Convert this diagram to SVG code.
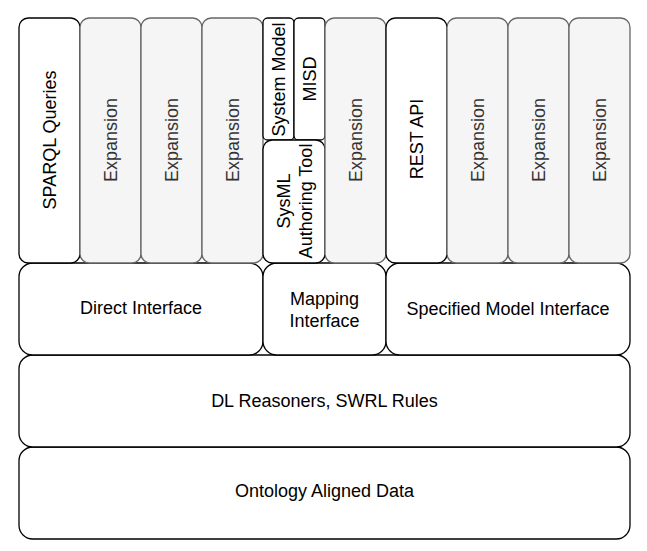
<svg xmlns="http://www.w3.org/2000/svg" width="647" height="551" viewBox="0 0 647 551">
<style>
  .w { fill: #ffffff; stroke: #000000; stroke-width: 1.3; }
  .g { fill: #f5f5f5; stroke: #666666; stroke-width: 1.3; }
  text { font-family: "Liberation Sans", Arial, Helvetica, sans-serif; font-size: 18px; text-anchor: middle; fill: #000000; }
  text.gt { fill: #333333; }
</style>
<rect width="647" height="551" fill="#ffffff"/>
<g id="ontology-aligned-data">
  <rect class="w" x="19" y="447" width="611" height="92" rx="13.8"/>
  <text x="324.5" y="497">Ontology Aligned Data</text>
</g>
<g id="dl-reasoners">
  <rect class="w" x="19" y="355" width="611" height="92" rx="13.8"/>
  <text x="324.5" y="407">DL Reasoners, SWRL Rules</text>
</g>
<g id="direct-interface">
  <rect class="w" x="19" y="263" width="244" height="92" rx="13.8"/>
  <text x="141" y="314">Direct Interface</text>
</g>
<g id="mapping-interface">
  <rect class="w" x="263" y="263" width="123" height="92" rx="13.8"/>
  <text x="324.5" y="305">Mapping</text>
  <text x="324.5" y="327">Interface</text>
</g>
<g id="specified-model-interface">
  <rect class="w" x="386" y="263" width="244" height="92" rx="13.8"/>
  <text x="508" y="315">Specified Model Interface</text>
</g>
<g id="sparql-queries">
  <rect class="w" x="19" y="18" width="61" height="245" rx="9.2"/>
  <text transform="translate(56,140) rotate(-90)">SPARQL Queries</text>
</g>
<g id="expansion-1">
  <rect class="g" x="80" y="18" width="61" height="245" rx="9.2"/>
  <text class="gt" transform="translate(117,140) rotate(-90)">Expansion</text>
</g>
<g id="expansion-2">
  <rect class="g" x="141" y="18" width="61" height="245" rx="9.2"/>
  <text class="gt" transform="translate(178,140) rotate(-90)">Expansion</text>
</g>
<g id="expansion-3">
  <rect class="g" x="202" y="18" width="61" height="245" rx="9.2"/>
  <text class="gt" transform="translate(239,140) rotate(-90)">Expansion</text>
</g>
<g id="system-model">
  <rect class="w" x="263" y="18" width="31" height="122" rx="4.6"/>
  <text transform="translate(285,79.5) rotate(-90)">System Model</text>
</g>
<g id="misd">
  <rect class="w" x="294" y="18" width="31" height="122" rx="4.6"/>
  <text transform="translate(315.5,79) rotate(-90)">MISD</text>
</g>
<g id="sysml-authoring-tool">
  <rect class="w" x="263" y="140" width="62" height="123" rx="9.2"/>
  <text transform="translate(290,201) rotate(-90)">SysML</text>
  <text transform="translate(312,201) rotate(-90)">Authoring Tool</text>
</g>
<g id="expansion-4">
  <rect class="g" x="325" y="18" width="61" height="245" rx="9.2"/>
  <text class="gt" transform="translate(362,140) rotate(-90)">Expansion</text>
</g>
<g id="rest-api">
  <rect class="w" x="386" y="18" width="61" height="245" rx="9.2"/>
  <text transform="translate(423,139) rotate(-90)">REST API</text>
</g>
<g id="expansion-5">
  <rect class="g" x="447" y="18" width="61" height="245" rx="9.2"/>
  <text class="gt" transform="translate(484,140) rotate(-90)">Expansion</text>
</g>
<g id="expansion-6">
  <rect class="g" x="508" y="18" width="61" height="245" rx="9.2"/>
  <text class="gt" transform="translate(545,140) rotate(-90)">Expansion</text>
</g>
<g id="expansion-7">
  <rect class="g" x="569" y="18" width="61" height="245" rx="9.2"/>
  <text class="gt" transform="translate(606,140) rotate(-90)">Expansion</text>
</g>
<g id="connectors"></g>
</svg>
